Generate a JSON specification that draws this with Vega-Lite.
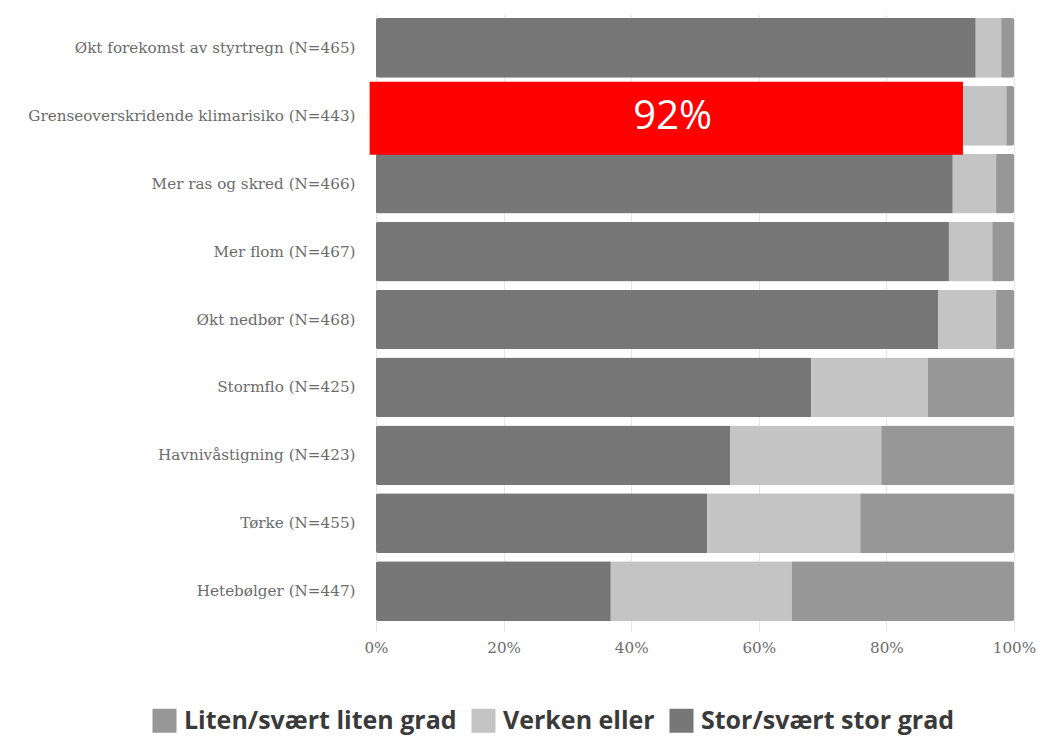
{
  "$schema": "https://vega.github.io/schema/vega-lite/v6.json",
  "width": 638,
  "height": 611,
  "autosize": {"type": "none"},
  "padding": {"left": 376, "top": 14, "right": 24, "bottom": 128},
  "background": "white",
  "config": {"view": {"stroke": null}},
  "datasets": {
    "bars": [
      {"cat": "Økt forekomst av styrtregn (N=465)", "svar": "Stor/svært stor grad", "o": 1, "pct": 94},
      {"cat": "Økt forekomst av styrtregn (N=465)", "svar": "Verken eller", "o": 2, "pct": 4},
      {"cat": "Økt forekomst av styrtregn (N=465)", "svar": "Liten/svært liten grad", "o": 3, "pct": 2},
      {"cat": "Grenseoverskridende klimarisiko (N=443)", "svar": "Stor/svært stor grad", "o": 1, "pct": 92},
      {"cat": "Grenseoverskridende klimarisiko (N=443)", "svar": "Verken eller", "o": 2, "pct": 6.8},
      {"cat": "Grenseoverskridende klimarisiko (N=443)", "svar": "Liten/svært liten grad", "o": 3, "pct": 1.2},
      {"cat": "Mer ras og skred (N=466)", "svar": "Stor/svært stor grad", "o": 1, "pct": 90.4},
      {"cat": "Mer ras og skred (N=466)", "svar": "Verken eller", "o": 2, "pct": 6.8},
      {"cat": "Mer ras og skred (N=466)", "svar": "Liten/svært liten grad", "o": 3, "pct": 2.8},
      {"cat": "Mer flom (N=467)", "svar": "Stor/svært stor grad", "o": 1, "pct": 89.8},
      {"cat": "Mer flom (N=467)", "svar": "Verken eller", "o": 2, "pct": 6.8},
      {"cat": "Mer flom (N=467)", "svar": "Liten/svært liten grad", "o": 3, "pct": 3.4},
      {"cat": "Økt nedbør (N=468)", "svar": "Stor/svært stor grad", "o": 1, "pct": 88.1},
      {"cat": "Økt nedbør (N=468)", "svar": "Verken eller", "o": 2, "pct": 9.1},
      {"cat": "Økt nedbør (N=468)", "svar": "Liten/svært liten grad", "o": 3, "pct": 2.8},
      {"cat": "Stormflo (N=425)", "svar": "Stor/svært stor grad", "o": 1, "pct": 68.2},
      {"cat": "Stormflo (N=425)", "svar": "Verken eller", "o": 2, "pct": 18.3},
      {"cat": "Stormflo (N=425)", "svar": "Liten/svært liten grad", "o": 3, "pct": 13.5},
      {"cat": "Havnivåstigning (N=423)", "svar": "Stor/svært stor grad", "o": 1, "pct": 55.5},
      {"cat": "Havnivåstigning (N=423)", "svar": "Verken eller", "o": 2, "pct": 23.7},
      {"cat": "Havnivåstigning (N=423)", "svar": "Liten/svært liten grad", "o": 3, "pct": 20.8},
      {"cat": "Tørke (N=455)", "svar": "Stor/svært stor grad", "o": 1, "pct": 51.9},
      {"cat": "Tørke (N=455)", "svar": "Verken eller", "o": 2, "pct": 24},
      {"cat": "Tørke (N=455)", "svar": "Liten/svært liten grad", "o": 3, "pct": 24.1},
      {"cat": "Hetebølger (N=447)", "svar": "Stor/svært stor grad", "o": 1, "pct": 36.8},
      {"cat": "Hetebølger (N=447)", "svar": "Verken eller", "o": 2, "pct": 28.4},
      {"cat": "Hetebølger (N=447)", "svar": "Liten/svært liten grad", "o": 3, "pct": 34.8}
    ],
    "hl": [
      {"cat": "Grenseoverskridende klimarisiko (N=443)", "lo": -1, "hi": 92, "mid": 46.5, "label": "92%"}
    ]
  },
  "encoding": {
    "y": {
      "field": "cat",
      "type": "nominal",
      "sort": ["Økt forekomst av styrtregn (N=465)", "Grenseoverskridende klimarisiko (N=443)", "Mer ras og skred (N=466)", "Mer flom (N=467)", "Økt nedbør (N=468)", "Stormflo (N=425)", "Havnivåstigning (N=423)", "Tørke (N=455)", "Hetebølger (N=447)"],
      "scale": {"paddingInner": 0.12, "paddingOuter": 0.06},
      "axis": {
        "title": null,
        "domain": false,
        "ticks": false,
        "labelFont": "DejaVu Serif",
        "labelFontSize": 15.2,
        "labelColor": "#6b6b6b",
        "labelPadding": 21,
        "labelLimit": 600
      }
    }
  },
  "layer": [
    {
      "data": {"name": "bars"},
      "mark": {"type": "bar", "cornerRadius": 2},
      "encoding": {
        "x": {
          "field": "pct",
          "type": "quantitative",
          "stack": "zero",
          "scale": {"domain": [0, 100], "nice": false},
          "axis": {
            "title": null,
            "values": [0, 20, 40, 60, 80, 100],
            "labelExpr": "datum.value + '%'",
            "domain": false,
            "grid": true,
            "gridColor": "#e6e6e6",
            "tickColor": "#e6e6e6",
            "tickSize": 7,
            "labelFont": "DejaVu Serif",
            "labelFontSize": 15.2,
            "labelColor": "#6b6b6b",
            "labelPadding": 8,
            "labelFlush": false
          }
        },
        "order": {"field": "o", "type": "quantitative"},
        "color": {
          "field": "svar",
          "type": "nominal",
          "scale": {
            "domain": ["Liten/svært liten grad", "Verken eller", "Stor/svært stor grad"],
            "range": ["#979797", "#c4c4c4", "#777777"]
          },
          "legend": {
            "title": null,
            "orient": "none",
            "direction": "horizontal",
            "legendX": -224,
            "legendY": 694,
            "symbolType": "square",
            "symbolSize": 576,
            "symbolStrokeWidth": 0,
            "symbolOpacity": 1,
            "labelFont": "Open Sans",
            "labelFontSize": 25,
            "labelFontWeight": "bold",
            "labelColor": "#3a3a3a",
            "labelOffset": 7,
            "columnPadding": 14,
            "labelLimit": 400
          }
        }
      }
    },
    {
      "data": {"name": "hl"},
      "mark": {"type": "bar", "color": "#ff0000", "height": 73, "yOffset": 2.5},
      "encoding": {
        "x": {"field": "lo", "type": "quantitative"},
        "x2": {"field": "hi"}
      }
    },
    {
      "data": {"name": "hl"},
      "mark": {"type": "text", "color": "white", "font": "Open Sans", "fontSize": 40, "yOffset": 1},
      "encoding": {
        "x": {"field": "mid", "type": "quantitative"},
        "text": {"field": "label"}
      }
    }
  ]
}
